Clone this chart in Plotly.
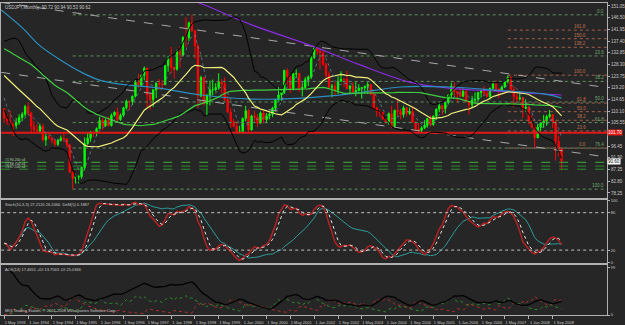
import numpy as np
import pandas as pd
import plotly.graph_objects as go

# ---------------- data (USDJPY monthly) ----------------
warmup_closes = [132.0, 142.8, 143.9, 139.1, 145.1, 139.4, 142.6, 143.6, 143.4,
                 144.4, 149.9, 157.6, 158.5, 152.1, 152.9, 146.7, 144.1, 137.9, 129.2, 132.6, 135.4,
                 131.2, 133.1, 140.6, 137.5, 138.6, 138.0, 137.6, 137.0, 133.0, 130.5, 129.6, 125.2,
                 125.6, 129.6, 133.0, 133.5, 127.7, 125.6, 127.3, 123.4, 119.9, 123.4, 124.4, 124.7,
                 124.9, 117.6, 115.3, 111.1]

highs = [111.3, 108.6, 110.4, 105.8, 107.4, 108.9, 109.7, 112.6,
         113.6, 109.9, 106.3, 105.0, 105.2, 105.2, 101.2, 101.4, 100.2, 99.0, 99.3, 100.6,
         101.5, 99.6, 97.4, 86.5, 85.7, 85.2, 88.5, 99.9, 101.9, 102.4, 102.6, 103.8,
         107.9, 107.5, 107.2, 108.0, 109.2, 110.0, 111.5, 109.2, 111.8, 114.6, 114.2, 116.2,
         122.2, 124.7, 124.3, 127.5, 127.2, 117.2, 118.6, 121.3, 122.6, 122.3, 128.1, 131.6,
         135.1, 127.5, 134.0, 135.4, 139.2, 146.7, 144.9, 147.6, 141.8, 136.4, 123.9, 123.4,
         116.8, 122.0, 122.4, 121.0, 124.8, 122.6, 123.2, 116.0, 111.4, 107.1, 106.0, 104.4,
         107.6, 112.2, 111.1, 108.7, 110.2, 109.0, 110.0, 110.2, 109.3, 109.6, 111.8, 114.8,
         119.4, 118.2, 126.2, 126.8, 124.2, 125.0, 126.4, 125.0, 121.1, 123.4, 124.0, 131.8,
         135.1, 135.0, 134.1, 133.8, 128.9, 125.5, 120.7, 121.4, 123.7, 125.6, 122.9, 125.7,
         120.2, 121.4, 121.7, 120.6, 119.5, 120.0, 121.4, 120.6, 117.6, 111.8, 110.9, 109.8,
         107.4, 109.6, 112.2, 110.7, 114.9, 110.9, 112.2, 111.7, 111.5, 111.9, 106.0, 105.5,
         104.2, 106.6, 107.5, 108.5, 108.4, 111.1, 113.7, 112.5, 113.7, 116.5, 121.2, 121.4,
         118.0, 119.4, 119.0, 118.7, 114.0, 116.1, 117.4, 117.6, 118.4, 119.9, 118.2, 119.2,
         121.8, 122.2, 119.1, 120.0, 122.0, 124.1, 123.7, 119.8, 117.0, 117.9, 115.6, 114.7,
         111.9, 108.6, 104.3, 105.0, 105.7, 108.6, 108.6, 110.6, 108.9, 106.4, 100.5, 96.0]

lows = [105.5, 104.8, 104.5, 100.4, 103.3, 104.8, 106.2, 107.9,
        108.5, 101.5, 101.4, 101.6, 101.9, 98.3, 96.6, 99.0, 97.6, 96.3, 96.5, 98.3,
        98.1, 95.8, 86.0, 79.8, 81.9, 82.0, 83.8, 87.1, 97.0, 98.2, 100.0, 100.5,
        103.1, 102.7, 104.0, 104.1, 104.1, 107.9, 106.0, 106.3, 107.9, 110.7, 110.6, 112.5,
        115.4, 119.2, 119.8, 122.1, 111.7, 110.6, 111.8, 115.2, 118.4, 118.9, 120.3, 125.4,
        124.8, 122.8, 125.9, 127.0, 131.5, 135.0, 137.4, 141.0, 130.6, 111.4, 115.5, 112.3,
        108.2, 112.3, 116.2, 117.8, 118.4, 117.0, 114.0, 109.5, 103.6, 103.8, 101.3, 101.5,
        101.4, 106.2, 102.0, 102.5, 105.9, 104.0, 105.8, 105.3, 105.4, 106.9, 107.8, 109.9,
        114.0, 114.1, 116.8, 120.4, 117.2, 118.2, 123.0, 117.6, 115.8, 119.0, 119.9, 122.6,
        130.4, 132.0, 126.3, 127.7, 123.0, 118.9, 115.5, 116.3, 116.8, 121.4, 119.5, 118.7,
        116.8, 116.8, 115.9, 117.8, 115.0, 116.9, 116.8, 116.2, 110.9, 107.9, 107.9, 106.7,
        105.2, 104.8, 103.4, 103.6, 108.1, 106.9, 107.6, 108.0, 108.6, 105.5, 102.5, 101.9,
        101.7, 103.1, 103.7, 104.2, 104.4, 106.7, 109.7, 108.7, 109.2, 112.7, 115.2, 115.9,
        113.4, 115.6, 115.5, 113.5, 108.9, 111.2, 113.2, 113.8, 115.4, 116.5, 115.4, 114.5,
        118.5, 118.3, 115.2, 117.6, 119.1, 120.9, 118.4, 111.6, 113.4, 114.3, 107.3, 109.9,
        104.9, 103.4, 95.7, 99.7, 102.3, 103.7, 104.4, 107.3, 103.5, 90.9, 92.5, 87.1]

closes = [107.3, 106.5, 104.9, 104.5, 105.7, 107.6, 108.9, 111.9,
          109.4, 104.2, 102.8, 102.4, 104.3, 98.9, 100.2, 99.7, 98.6, 97.2, 98.8, 99.6,
          99.2, 97.0, 86.4, 84.0, 84.5, 84.6, 88.2, 97.5, 99.6, 101.8, 101.7, 103.3,
          106.5, 104.4, 106.5, 104.5, 108.5, 109.7, 106.8, 108.5, 111.4, 114.0, 113.8, 115.9,
          121.3, 120.3, 124.0, 126.8, 116.5, 114.6, 118.4, 121.0, 120.7, 120.4, 127.8, 130.6,
          127.1, 126.4, 133.2, 132.0, 138.9, 138.7, 144.5, 141.4, 135.5, 116.0, 123.2, 113.1,
          116.3, 118.4, 118.5, 119.3, 121.4, 120.7, 114.6, 109.8, 106.2, 104.2, 102.1, 102.2,
          107.3, 110.3, 102.8, 108.2, 107.7, 105.4, 109.4, 106.8, 108.3, 108.9, 111.3, 114.4,
          116.4, 117.4, 126.0, 123.6, 118.9, 124.6, 124.8, 118.9, 119.3, 122.4, 123.4, 131.0,
          134.7, 133.5, 132.7, 128.4, 124.2, 119.4, 119.8, 118.3, 121.8, 122.5, 122.4, 118.8,
          119.9, 117.6, 118.1, 119.0, 119.2, 119.8, 120.5, 116.8, 111.4, 110.0, 109.6, 107.1,
          105.9, 109.1, 104.2, 110.4, 110.0, 108.8, 111.4, 109.2, 110.0, 105.8, 103.1, 102.6,
          103.6, 104.6, 107.2, 104.9, 108.2, 110.9, 112.2, 111.0, 113.5, 116.4, 119.8, 117.8,
          117.2, 115.9, 117.8, 113.8, 112.6, 114.4, 114.6, 117.4, 118.1, 116.9, 115.8, 119.0,
          120.7, 118.5, 117.8, 119.5, 121.7, 123.2, 118.6, 115.8, 114.8, 115.3, 111.2, 111.7,
          106.4, 103.9, 99.7, 103.9, 105.5, 106.2, 108.0, 108.8, 106.0, 98.4, 95.5, 90.6]

first_month = "1993-05-01"

# long moving averages (100 / 200 period)
sma100_dates = ["1993-04-01", "1993-11-01", "1994-05-01", "1994-12-01", "1995-07-01", "1996-01-01",
                "1996-08-01", "1997-09-01", "1998-11-01", "2000-04-01", "2001-09-01", "2003-01-01",
                "2004-06-01", "2005-10-01", "2007-02-01", "2008-06-01", "2008-12-01"]
sma100_vals = [149.5, 142.6, 135.6, 129.9, 125.2, 122.2, 120.6, 119.1, 116.4, 114.8, 115.2, 116.8,
               119.5, 119.5, 118.3, 116.8, 115.2]
sma200_dates = ["1998-06-01", "1998-12-01", "2000-04-01", "2001-12-01", "2003-04-01", "2004-09-01",
                "2005-10-01", "2007-02-01", "2008-12-01"]
sma200_vals = [154.0, 151.5, 143.7, 135.6, 128.3, 121.4, 119.1, 117.9, 116.4]

# trend lines (anchor dates / prices)
upper_tl_dates = ["1993-04-01", "2010-03-01"]
upper_tl_prices = [152.4, 119.3]
lower_tl_dates = ["1993-04-01", "2010-03-01"]
lower_tl_prices = [125.2, 92.3]

# Fibonacci sets
fib_green_levels = [0.0, 23.6, 38.2, 50.0, 61.8, 76.4, 100.0]
fib_green_hi, fib_green_lo, fib_green_start = 147.6, 79.75, "1995-04-01"
fib_red_levels = [0.0, 23.6, 38.2, 50.0, 61.8, 100.0, 138.2, 150.0, 161.8]
fib_red_lo, fib_red_hi, fib_red_start = 95.7, 124.1, "2007-06-01"

red_level = 101.70
green_order_levels = [90.20, 88.70, 87.50]
green_order_texts = ["#1 90.200 s4", "#2 88.700 s4", "#3 87.500 s4"]

tick_dates = ["1993-05-01", "1994-01-01", "1994-09-01", "1995-05-01", "1996-01-01", "1996-09-01",
              "1997-05-01", "1998-01-01", "1998-09-01", "1999-05-01", "2000-01-01", "2000-09-01",
              "2001-05-01", "2002-01-01", "2002-09-01", "2003-05-01", "2004-01-01", "2004-09-01",
              "2005-05-01", "2006-01-01", "2006-09-01", "2007-05-01", "2008-01-01", "2008-09-01"]
tick_texts = ["1 May 1993", "1 Jan 1994", "1 Sep 1994", "1 May 1995", "1 Jan 1996", "1 Sep 1996",
              "1 May 1997", "1 Jan 1998", "1 Sep 1998", "1 May 1999", "1 Jan 2000", "1 Sep 2000",
              "1 May 2001", "1 Jan 2002", "1 Sep 2002", "1 May 2003", "1 Jan 2004", "1 Sep 2004",
              "1 May 2005", "1 Jan 2006", "1 Sep 2006", "1 May 2007", "1 Jan 2008", "1 Sep 2008"]
price_ticks = [151.05, 146.50, 141.95, 137.40, 132.85, 128.30, 123.75, 119.20, 114.65, 110.10,
               105.55, 96.45, 91.90, 87.35, 82.80, 78.25]

# ---------------- derived indicators ----------------
n = len(closes)
dates = pd.date_range(first_month, periods=n, freq="MS")
opens = [warmup_closes[-1]] + closes[:-1]
c_all = pd.Series(warmup_closes + closes)
sma5 = c_all.rolling(5).mean().iloc[-n:].values
sma20 = c_all.rolling(20).mean().iloc[-n:].values
std20 = c_all.rolling(20).std(ddof=0).iloc[-n:].values
sma50 = c_all.rolling(50).mean().iloc[-n:].values
bb_up = sma20 + 2 * std20
bb_dn = sma20 - 2 * std20

H = pd.Series(highs); L = pd.Series(lows); C = pd.Series(closes)


def stoch(kp, slow, dp):
    hh = H.rolling(kp, min_periods=1).max()
    ll = L.rolling(kp, min_periods=1).min()
    num = (C - ll).rolling(slow, min_periods=1).sum()
    den = (hh - ll).rolling(slow, min_periods=1).sum()
    k = 100 * num / den
    d = k.rolling(dp, min_periods=1).mean()
    return k, d


st_k, st_d = stoch(14, 5, 3)
slow_k, _ = stoch(34, 9, 3)

# ADX (MetaTrader style: per-bar ratios smoothed by EMA)
up = H.diff(); dn = -L.diff()
pdm = pd.Series(np.where((up > dn) & (up > 0), up, 0.0))
mdm = pd.Series(np.where((dn > up) & (dn > 0), dn, 0.0))
tr = pd.concat([H - L, (H - C.shift()).abs(), (L - C.shift()).abs()], axis=1).max(axis=1)
a = 2 / 15
pdi = (100 * pdm / tr).ewm(alpha=a, adjust=False).mean()
mdi = (100 * mdm / tr).ewm(alpha=a, adjust=False).mean()
dx = 100 * (pdi - mdi).abs() / (pdi + mdi)
adx = dx.ewm(alpha=a, adjust=False).mean()
adx_top = float(max(adx.max(), pdi.max(), mdi.max())) * 1.03

# ---------------- figure ----------------
BG = "#262626"
TXT = "#c8c8c8"
FONT = "Liberation Sans"
fig = go.Figure()

fig_end = "2010-03-10"
for lv in fib_green_levels:
    p = fib_green_hi - lv / 100 * (fib_green_hi - fib_green_lo)
    fig.add_trace(go.Scatter(x=[fib_green_start, fig_end], y=[p, p], mode="lines",
                             line=dict(color="#5f8f5f", width=1, dash="dot"), hoverinfo="skip",
                             showlegend=False))
    fig.add_annotation(x=0.998, xref="paper", y=p, yref="y", text=f"{lv:.1f}", showarrow=False,
                       xanchor="right", yanchor="bottom", yshift=-1,
                       font=dict(size=4.5, color="#6fa86f", family=FONT))
for lv in fib_red_levels:
    p = fib_red_lo + lv / 100 * (fib_red_hi - fib_red_lo)
    fig.add_trace(go.Scatter(x=[fib_red_start, fig_end], y=[p, p], mode="lines",
                             line=dict(color="#a0604a", width=1, dash="dot"), hoverinfo="skip",
                             showlegend=False))
    fig.add_annotation(x=0.968, xref="paper", y=p, yref="y", text=f"{lv:.1f}", showarrow=False,
                       xanchor="right", yanchor="bottom", yshift=-1,
                       font=dict(size=4.5, color="#c07050", family=FONT))

gcols = ["#3fae3f", "#2e8f2e", "#2e8f2e"]
for lv, t, gc in zip(green_order_levels, green_order_texts, gcols):
    fig.add_trace(go.Scatter(x=["1993-04-01", fig_end], y=[lv, lv], mode="lines",
                             line=dict(color=gc, width=1, dash="dash"), hoverinfo="skip", showlegend=False))
    fig.add_annotation(x=0.004, xref="paper", y=lv, yref="y", text=t, showarrow=False,
                       xanchor="left", yanchor="bottom", yshift=-2,
                       font=dict(size=3.5, color="#b0d0b0", family=FONT))

fig.add_trace(go.Scatter(x=upper_tl_dates, y=upper_tl_prices, mode="lines",
                         line=dict(color="#a8a8a8", width=1, dash="dash"), showlegend=False))
fig.add_trace(go.Scatter(x=lower_tl_dates, y=lower_tl_prices, mode="lines",
                         line=dict(color="#a8a8a8", width=1, dash="dash"), showlegend=False))

fig.add_trace(go.Scatter(x=["1993-04-01", fig_end], y=[red_level, red_level], mode="lines",
                         line=dict(color="#e01818", width=2), showlegend=False))

fig.add_trace(go.Scatter(x=sma200_dates, y=sma200_vals, mode="lines", line=dict(color="#8a2be2", width=1.2),
                         line_shape="spline", showlegend=False))
fig.add_trace(go.Scatter(x=sma100_dates, y=sma100_vals, mode="lines", line=dict(color="#2a8fc0", width=1.2),
                         line_shape="spline", showlegend=False))
fig.add_trace(go.Scatter(x=dates, y=bb_up, mode="lines", line=dict(color="#000000", width=1), showlegend=False))
fig.add_trace(go.Scatter(x=dates, y=bb_dn, mode="lines", line=dict(color="#000000", width=1), showlegend=False))
fig.add_trace(go.Scatter(x=dates, y=sma50, mode="lines", line=dict(color="#3fcf3f", width=1.2), showlegend=False))
fig.add_trace(go.Scatter(x=dates, y=sma20, mode="lines", line=dict(color="#f0f07a", width=1.2), showlegend=False))
fig.add_trace(go.Scatter(x=dates, y=sma5, mode="lines", line=dict(color="#7f9fbf", width=1, dash="dot"),
                         opacity=0.6, showlegend=False))

fig.add_trace(go.Candlestick(x=dates, open=opens, high=highs, low=lows, close=closes,
                             increasing=dict(line=dict(color="#00ff00", width=1), fillcolor="#00ff00"),
                             decreasing=dict(line=dict(color="#ff0000", width=1), fillcolor="#ff0000"),
                             whiskerwidth=0, showlegend=False, xaxis="x", yaxis="y"))

fig.add_trace(go.Scatter(x=dates, y=slow_k, mode="lines", line=dict(color="#2f9b9b", width=1),
                         xaxis="x2", yaxis="y2", showlegend=False))
fig.add_trace(go.Scatter(x=dates, y=st_k, mode="lines", line=dict(color="#b22222", width=1.5),
                         xaxis="x2", yaxis="y2", showlegend=False))
fig.add_trace(go.Scatter(x=dates, y=st_d, mode="lines", line=dict(color="#e8e8e8", width=1, dash="dot"),
                         xaxis="x2", yaxis="y2", showlegend=False))
for lv in [20, 80]:
    fig.add_trace(go.Scatter(x=["1993-04-01", fig_end], y=[lv, lv], mode="lines",
                             line=dict(color="#c0c0c0", width=1, dash="dot"), xaxis="x2", yaxis="y2",
                             showlegend=False))

fig.add_trace(go.Scatter(x=dates, y=pdi, mode="lines", line=dict(color="#2e8b2e", width=1, dash="dot"),
                         xaxis="x3", yaxis="y3", showlegend=False))
fig.add_trace(go.Scatter(x=dates, y=mdi, mode="lines", line=dict(color="#b03030", width=1, dash="dot"),
                         xaxis="x3", yaxis="y3", showlegend=False))
fig.add_trace(go.Scatter(x=dates, y=adx, mode="lines", line=dict(color="#000000", width=1.3),
                         xaxis="x3", yaxis="y3", showlegend=False))

xr = ["1993-03-30", "2010-03-10"]
axfont = dict(size=4.5, color=TXT, family=FONT)
fig.update_layout(
    width=625, height=325, margin=dict(l=0, r=18, t=0, b=10),
    paper_bgcolor=BG, plot_bgcolor=BG, showlegend=False,
    font=dict(family=FONT, color=TXT),
    xaxis=dict(domain=[0, 1], anchor="y", range=xr, type="date", showticklabels=False, showgrid=False,
               rangeslider=dict(visible=False), showline=True, linecolor="#b0b0b0", mirror=True, zeroline=False),
    xaxis2=dict(domain=[0, 1], anchor="y2", range=xr, type="date", matches="x", showticklabels=False,
                showgrid=False, showline=True, linecolor="#b0b0b0", mirror=True),
    xaxis3=dict(domain=[0, 1], anchor="y3", range=xr, type="date", matches="x", showgrid=False,
                tickvals=tick_dates, ticktext=tick_texts, tickfont=dict(size=4, color=TXT, family=FONT),
                tickangle=0, ticks="outside", ticklen=3, tickcolor="#b0b0b0", ticklabelshift=11,
                ticklabelstandoff=0, showline=True, linecolor="#b0b0b0", mirror=True),
    yaxis=dict(domain=[0.375, 1], anchor="x", range=[76.3, 152.2], side="right", showgrid=False,
               tickvals=price_ticks, ticktext=[f"{v:.2f}" for v in price_ticks], tickfont=axfont,
               ticks="outside", ticklen=2, tickcolor="#b0b0b0", showline=True, linecolor="#b0b0b0",
               mirror=True, zeroline=False),
    yaxis2=dict(domain=[0.168, 0.368], anchor="x2", range=[0, 100], side="right", showgrid=False,
                tickvals=[0, 20, 80, 100], tickfont=dict(size=4, color=TXT, family=FONT), ticks="outside",
                ticklen=2, tickcolor="#b0b0b0",
                showline=True, linecolor="#b0b0b0", mirror=True, zeroline=False),
    yaxis3=dict(domain=[0, 0.159], anchor="x3", range=[0, adx_top], side="right", showgrid=False,
                tickvals=[0, round(adx_top * 0.96)], tickfont=dict(size=4, color=TXT, family=FONT),
                ticks="outside", ticklen=2, tickcolor="#b0b0b0",
                showline=True, linecolor="#b0b0b0", mirror=True, zeroline=False),
)

fig.add_annotation(x=1, xref="paper", y=red_level, yref="y", text=f"{red_level:.2f}", showarrow=False,
                   xanchor="left", font=dict(size=4.5, color="#ffffff", family=FONT), bgcolor="#e01818",
                   borderpad=0)
fig.add_annotation(x=1, xref="paper", y=closes[-1], yref="y", text=f"{closes[-1]:.2f}", showarrow=False,
                   xanchor="left", font=dict(size=4.5, color="#000000", family=FONT), bgcolor="#ffffff",
                   borderpad=0)

fig.add_annotation(x=0.003, xref="paper", y=1, yref="paper", yanchor="top", xanchor="left", showarrow=False,
                   text="USDJPY,Monthly  90.72 90.94 90.53 90.62", font=dict(size=4.5, color=TXT, family=FONT))
fig.add_annotation(x=0.003, xref="paper", y=0.368, yref="paper", yanchor="top", xanchor="left", showarrow=False,
                   text="Stoch(10,3,3) 27.2120 26.2466  DeM(5) 0.1887", font=dict(size=4, color=TXT, family=FONT))
fig.add_annotation(x=0.003, xref="paper", y=0.159, yref="paper", yanchor="top", xanchor="left", showarrow=False,
                   text="ADX(14) 17.4651 +DI 13.7563 -DI 25.0366", font=dict(size=4, color=TXT, family=FONT))
fig.add_annotation(x=0.003, xref="paper", y=0.0, yref="paper", yanchor="bottom", xanchor="left", showarrow=False,
                   text="MIG Trading Station, © 2001-2008 MetaQuotes Software Corp.",
                   font=dict(size=4, color=TXT, family=FONT))

fig.write_html("out.html")
